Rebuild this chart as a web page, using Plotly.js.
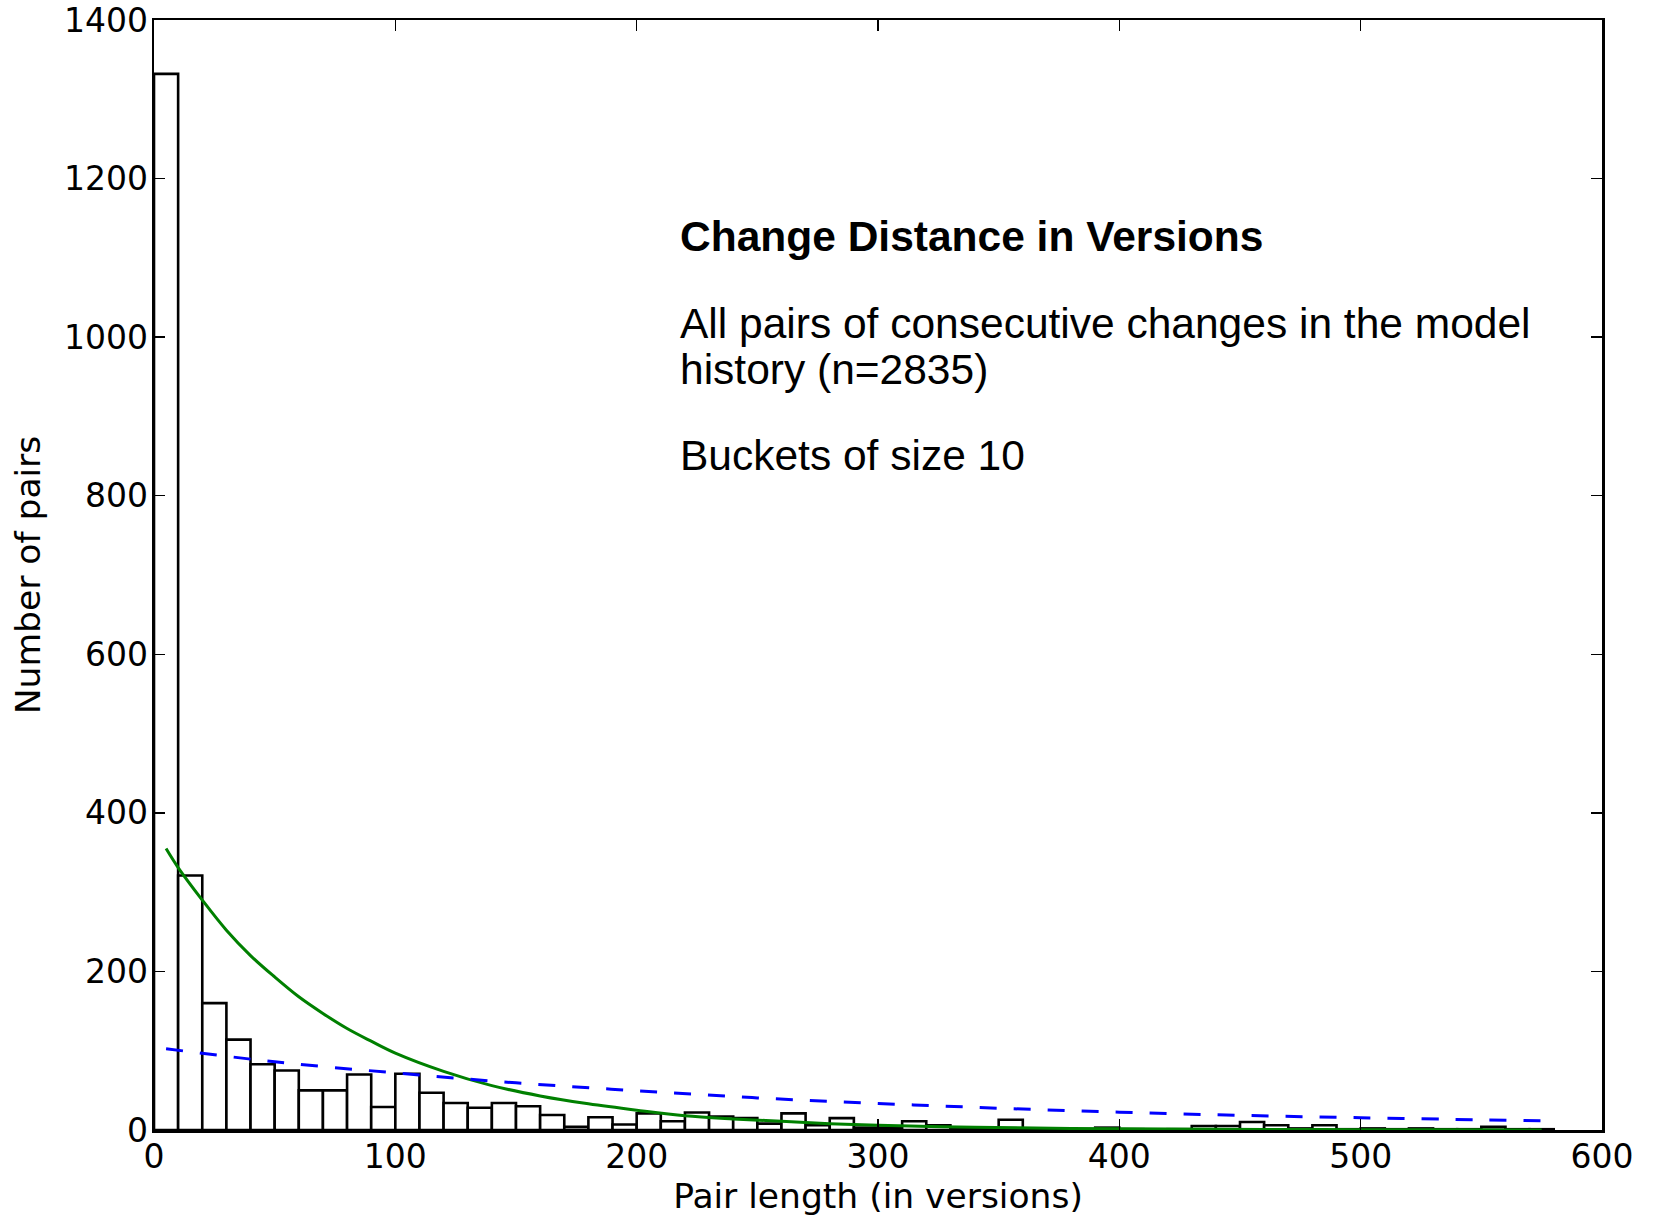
<!DOCTYPE html>
<html>
<head>
<meta charset="utf-8">
<script src="https://cdn.plot.ly/plotly-3.0.1.min.js"></script>
<style>html,body{margin:0;padding:0;background:#fff;}#chart{width:1656px;height:1216px;}</style>
</head>
<body>
<div id="chart"></div>
<script>
// Histogram buckets (left edge of each bucket, size 10)
const bucketStarts = [0,10,20,30,40,50,60,70,80,90,100,110,120,130,140,150,160,170,180,190,
  200,210,220,230,240,250,260,270,280,290,300,310,320,330,340,350,360,370,380,390,
  400,410,420,430,440,450,460,470,480,490,500,510,520,530,540,550,560,570];
const pairCounts = [1332,321,160,114,83,75,50,50,70,29,71,47,34,28,34,30,19,4,16,7,
  21,11,22,17,15,8,21,6,15,3,3,11,6,2,1,13,2,1,1,3,
  1,0,1,5,5,10,6,2,6,1,2,1,2,1,1,4,1,1];
const bucketSize = 10;

// Green fitted curve
const greenX = [5,10,20,30,40,50,60,70,80,90,100,120,140,160,180,200,220,240,260,280,300,340,380,420,460,500,540,575];
const greenY = [355,331,290,252,220,193,168,147,128,112,97,74,56,43,33,25,18,14,11,8,6,3.5,2,1.2,0.7,0.4,0.2,0.1];

// Blue dashed fitted curve
const blueX = [5,50,100,150,200,250,300,350,400,450,500,550,575];
const blueY = [102.5,86,72,59.5,49.5,40.5,33.5,27.5,22.5,18.5,15.5,12.8,11.6];

// Tick labels
const xTicks = [0,100,200,300,400,500,600];
const yTicks = [0,200,400,600,800,1000,1200,1400];

const bucketCenters = bucketStarts.map(s => s + bucketSize / 2);

const traces = [
  {
    type: 'bar',
    x: bucketCenters,
    y: pairCounts,
    width: bucketStarts.map(() => bucketSize),
    marker: {color: '#ffffff', line: {color: '#000000', width: 2.6}},
    hoverinfo: 'x+y'
  },
  {
    type: 'scatter', mode: 'lines',
    x: greenX, y: greenY,
    line: {color: '#008000', width: 3, shape: 'spline'}
  },
  {
    type: 'scatter', mode: 'lines',
    x: blueX, y: blueY,
    line: {color: '#0000ff', width: 3, dash: '17px,17px', shape: 'spline'}
  }
];

const tickFont = {family: 'DejaVu Sans, sans-serif', size: 33, color: '#000'};
const titleFont = {family: 'DejaVu Sans, sans-serif', size: 34.5, color: '#000'};
const annFont = {family: 'Liberation Sans, Arial, sans-serif', size: 42.5, color: '#000'};

const layout = {
  width: 1656, height: 1216,
  margin: {l: 153.5, r: 53.5, t: 20, b: 86, pad: 0},
  paper_bgcolor: '#ffffff', plot_bgcolor: '#ffffff',
  showlegend: false,
  bargap: 0,
  xaxis: {
    range: [0, 600], tickvals: xTicks, ticktext: xTicks.map(String),
    showgrid: false, zeroline: false,
    showline: true, linecolor: '#000', linewidth: 2.5, mirror: 'ticks',
    ticks: 'inside', ticklen: 11, tickwidth: 1.5, tickcolor: '#000',
    tickfont: tickFont, ticklabelstandoff: -4,
    title: {text: 'Pair length (in versions)', font: titleFont, standoff: 5}
  },
  yaxis: {
    range: [0, 1400], tickvals: yTicks, ticktext: yTicks.map(String),
    showgrid: false, zeroline: false,
    showline: true, linecolor: '#000', linewidth: 2.5, mirror: 'ticks',
    ticks: 'inside', ticklen: 11, tickwidth: 1.5, tickcolor: '#000',
    tickfont: tickFont, ticklabelstandoff: -3,
    title: {text: 'Number of pairs', font: titleFont, standoff: 13}
  },
  annotations: [
    {xref: 'paper', yref: 'paper', x: 0.362, y: 0.805, xanchor: 'left', yanchor: 'middle',
     text: '<b>Change Distance in Versions</b>', showarrow: false, font: annFont},
    {xref: 'paper', yref: 'paper', x: 0.362, y: 0.727, xanchor: 'left', yanchor: 'middle',
     text: 'All pairs of consecutive changes in the model', showarrow: false, font: annFont},
    {xref: 'paper', yref: 'paper', x: 0.362, y: 0.685, xanchor: 'left', yanchor: 'middle',
     text: 'history (n=2835)', showarrow: false, font: annFont},
    {xref: 'paper', yref: 'paper', x: 0.362, y: 0.608, xanchor: 'left', yanchor: 'middle',
     text: 'Buckets of size 10', showarrow: false, font: annFont}
  ]
};

Plotly.newPlot('chart', traces, layout, {displayModeBar: false, staticPlot: true});
</script>
</body>
</html>
